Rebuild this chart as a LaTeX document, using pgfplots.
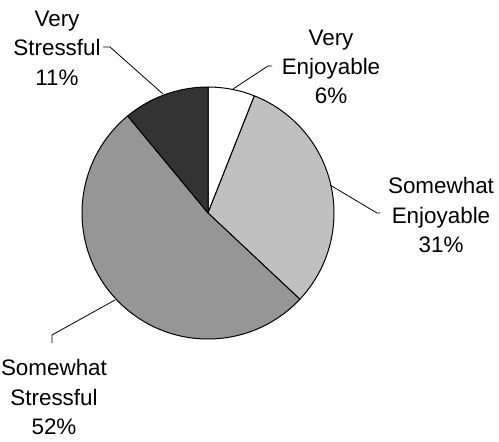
\documentclass[border=0pt]{standalone}
\usepackage{pgfplots}
\pgfplotsset{compat=1.18}
\usepackage{fontspec}
\setmainfont{Liberation Sans}
\definecolor{lightg}{HTML}{C0C0C0}
\definecolor{midg}{HTML}{969696}
\definecolor{darkg}{HTML}{333333}
% wedge: #1 cumulative start (percent), #2 share (percent), #3 colour
\newcommand{\piewedge}[3]{%
  \pgfmathsetmacro{\aa}{90-3.6*#1}%
  \pgfmathsetmacro{\ab}{90-3.6*(#1+#2)}%
  \edef\temp{\noexpand\filldraw[fill=#3,draw=black,line width=1bp,line join=round]
    (axis cs:208,213) -- ++(\aa:126bp) arc[start angle=\aa, end angle=\ab, radius=126bp] -- cycle;}%
  \temp}
\begin{document}
\begin{tikzpicture}
\begin{axis}[
  width=499bp, height=442bp, scale only axis,
  xmin=0, xmax=499, ymin=0, ymax=442, y dir=reverse,
  hide axis, clip=false,
]
\coordinate (BL) at (axis cs:0,442);
\coordinate (TR) at (axis cs:499,0);
% values (percent): Very Enjoyable 6, Somewhat Enjoyable 31, Somewhat Stressful 52, Very Stressful 11
\piewedge{0}{6}{white}
\piewedge{6}{31}{lightg}
\piewedge{37}{52}{midg}
\piewedge{89}{11}{darkg}
\draw[line width=0.8bp] (axis cs:103,47) -- (axis cs:110,47) -- (axis cs:163,94);
\draw[line width=0.8bp] (axis cs:272,66) -- (axis cs:268,66) -- (axis cs:233,89);
\draw[line width=0.8bp] (axis cs:380,213) -- (axis cs:377,213) -- (axis cs:330,185);
\draw[line width=0.8bp] (axis cs:52,343) -- (axis cs:52,335) -- (axis cs:115,300);
\tikzset{lab/.style={align=center, inner sep=0pt, font=\fontsize{22.5}{29.5}\selectfont}}
\node[lab] at (axis cs:57,48) {Very\\Stressful\\11\%};
\node[lab] at (axis cs:331,67) {Very\\Enjoyable\\6\%};
\node[lab] at (axis cs:441,215) {Somewhat\\Enjoyable\\31\%};
\node[lab] at (axis cs:54,397) {Somewhat\\Stressful\\52\%};
\end{axis}
\pgfresetboundingbox
\useasboundingbox (BL) rectangle (TR);
\end{tikzpicture}
\end{document}
